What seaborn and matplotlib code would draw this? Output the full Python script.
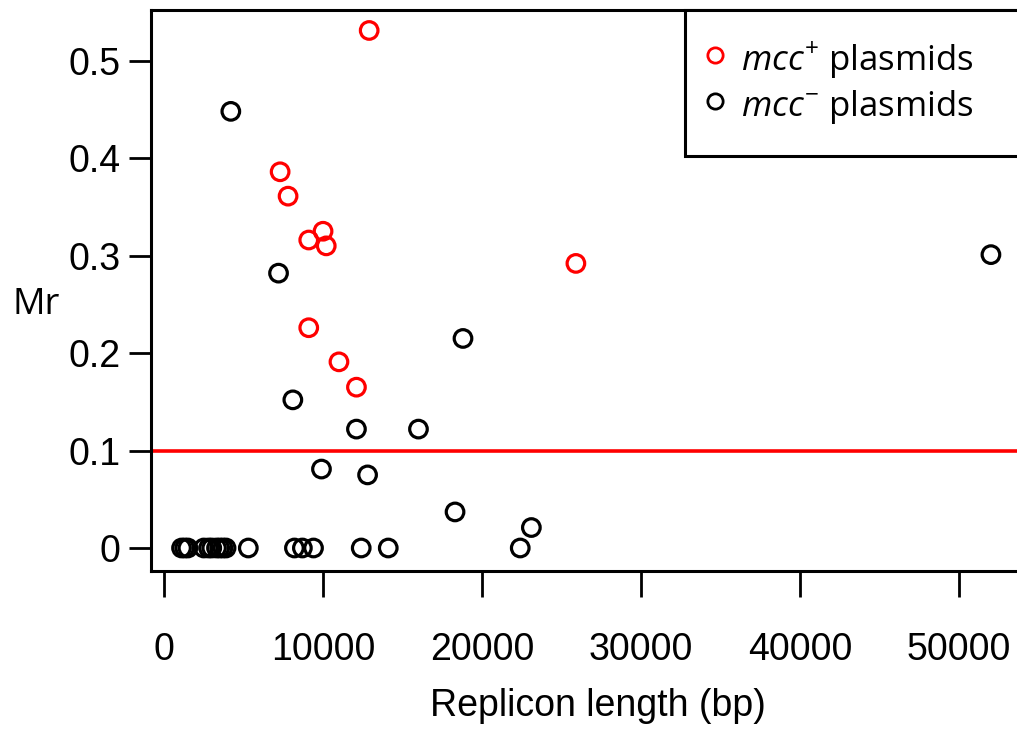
import matplotlib
matplotlib.use("Agg")
import matplotlib.pyplot as plt
import seaborn as sns
import pandas as pd

# mcc+ plasmids
pos_len = [12900, 7300, 7800, 10000, 9100, 10200, 25900, 9100, 11000, 12100]
pos_mr = [0.531, 0.386, 0.361, 0.325, 0.316, 0.310, 0.292, 0.226, 0.191, 0.165]

# mcc- plasmids
neg_len = [4200, 7200, 18800, 8100, 12100, 16000, 9900, 12800, 52000, 18300, 23100, 22400,
           1100, 1300, 1500, 2500, 2800, 3000, 3300, 3500, 3700, 3900, 5300,
           8200, 8700, 9400, 12400, 14100]
neg_mr = [0.448, 0.282, 0.215, 0.152, 0.122, 0.122, 0.081, 0.075, 0.301, 0.037, 0.021, 0.0,
          0, 0, 0, 0, 0, 0, 0, 0, 0, 0, 0,
          0, 0, 0, 0, 0]

threshold = 0.1
xticks = [0, 10000, 20000, 30000, 40000, 50000]
yticks = [0, 0.1, 0.2, 0.3, 0.4, 0.5]
yticklabels = ["0", "0.1", "0.2", "0.3", "0.4", "0.5"]

df = pd.DataFrame({
    "length": neg_len + pos_len,
    "mr": neg_mr + pos_mr,
    "group": ["neg"] * len(neg_len) + ["pos"] * len(pos_len),
})

sns.set_style("white")
plt.rcParams["font.family"] = ["Liberation Sans", "DejaVu Sans"]
plt.rcParams["mathtext.fontset"] = "custom"
plt.rcParams["mathtext.rm"] = "Open Sans"
plt.rcParams["mathtext.it"] = "Open Sans:italic"
for key in ["text.color", "axes.labelcolor", "xtick.color", "ytick.color"]:
    plt.rcParams[key] = "black"

fig = plt.figure(figsize=(10.17, 7.29), dpi=100)
ax = fig.add_axes([151 / 1017, 158 / 729, (1045 - 151) / 1017, 561 / 729])

ax.axhline(threshold, color="#ff0000", lw=2.6, zorder=1)

sns.scatterplot(
    data=df, x="length", y="mr", hue="group",
    palette={"pos": "#ff0000", "neg": "black"},
    hue_order=["pos", "neg"],
    marker="o", s=160, linewidth=2.3,
    legend=False, ax=ax, zorder=3,
)
# hollow circles with the group colour on the edge
coll = ax.collections[-1]
coll.set_facecolor("none")
cols = ["#ff0000" if g == "pos" else "black" for g in df["group"]]
coll.set_edgecolor(cols)

ax.set_xlim(-820, 55400)
ax.set_ylim(-0.0236, 0.552)
ax.set_xticks(xticks)
ax.set_xticklabels([str(t) for t in xticks])
ax.set_yticks(yticks)
ax.set_yticklabels(yticklabels)
ax.tick_params(axis="both", direction="out", length=16, width=2, labelsize=27,
               color="black", labelcolor="black", left=True, bottom=True)
ax.tick_params(axis="y", pad=6)
ax.tick_params(axis="x", length=19, pad=25)

for side in ["left", "bottom", "top", "right"]:
    ax.spines[side].set_linewidth(2.2)
    ax.spines[side].set_color("black")

ax.set_xlabel("Replicon length (bp)", fontsize=27, labelpad=14)
ax.set_ylabel("Mr", rotation=0, fontsize=26, family=["Open Sans", "DejaVu Sans"],
              ha="left", va="center")
ax.yaxis.set_label_coords(-0.155, 0.474)

handles = [
    plt.Line2D([], [], ls="none", marker="o", ms=11, mfc="none", mec="#ff0000", mew=2),
    plt.Line2D([], [], ls="none", marker="o", ms=11, mfc="none", mec="black", mew=2),
]
labels = [r"$\mathit{mcc}^{+}$ plasmids", r"$\mathit{mcc}^{-}$ plasmids"]
leg = fig.legend(
    handles, labels, loc="upper left",
    bbox_to_anchor=(685 / 1017, 0.5, 0.4, 1 - 10 / 729 - 0.5),
    bbox_transform=fig.transFigure, mode="expand",
    frameon=True, fancybox=False, edgecolor="black", framealpha=1,
    borderpad=0.85, handlelength=0.05, handleheight=1.4, handletextpad=0.7,
    labelspacing=0.1, borderaxespad=0,
    prop={"family": ["Open Sans", "DejaVu Sans"], "size": 25},
)
leg.get_frame().set_linewidth(2.2)

fig.savefig("out.png", dpi=100)
